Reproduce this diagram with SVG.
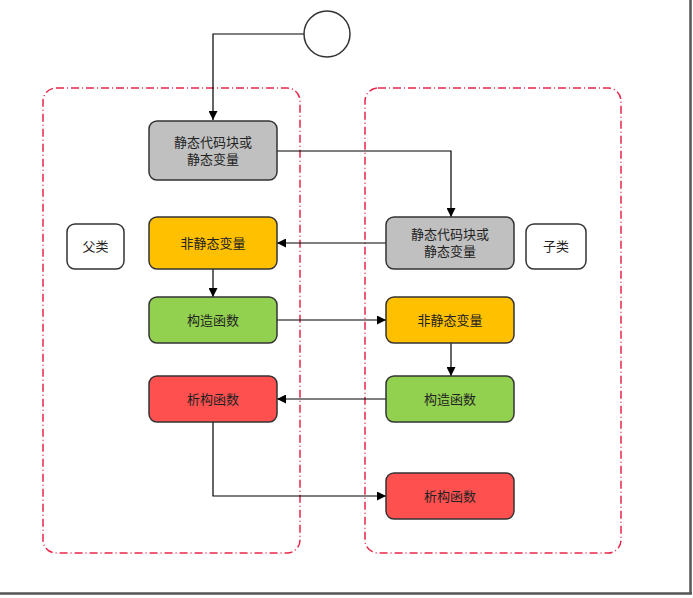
<svg xmlns="http://www.w3.org/2000/svg" width="693" height="598" viewBox="0 0 693 598">
<defs>
<marker id="arr" viewBox="0 0 10 10" refX="10" refY="5" markerWidth="9" markerHeight="9" markerUnits="userSpaceOnUse" orient="auto">
<path d="M0,0 L10,5 L0,10 z" fill="#000"/>
</marker>
<style>
.grp{fill:none;stroke:#E8264A;stroke-width:1.5;stroke-dasharray:8 3 1 3}
.n{stroke:#333;stroke-width:1.5}
.t{font-family:"Liberation Sans","Noto Sans CJK SC",sans-serif;font-size:13px;fill:#222;text-anchor:middle;dominant-baseline:central}
.c{fill:none;stroke:#000;stroke-width:1.2}
</style>
</defs>
<rect width="693" height="598" fill="#fff"/>
<line x1="690.5" y1="0" x2="690.5" y2="594" stroke="#555" stroke-width="2.5"/>
<line x1="0" y1="593.5" x2="692" y2="593.5" stroke="#555" stroke-width="2.5"/>
<g id="containers">
<rect class="grp" x="43" y="88" width="257" height="465" rx="13"/>
<rect class="grp" x="365" y="88" width="256" height="465" rx="13"/>
</g>
<g id="connectors">
<path class="c" d="M304,34 H213 V120" marker-end="url(#arr)"/>
<path class="c" d="M277,151 H451 V217" marker-end="url(#arr)"/>
<path class="c" d="M386,243 H277" marker-end="url(#arr)"/>
<path class="c" d="M213,269 V297" marker-end="url(#arr)"/>
<path class="c" d="M277,320 H386" marker-end="url(#arr)"/>
<path class="c" d="M451,343 V376" marker-end="url(#arr)"/>
<path class="c" d="M386,399 H277" marker-end="url(#arr)"/>
<path class="c" d="M213,422 V496 H386" marker-end="url(#arr)"/>
</g>
<g id="start"><circle cx="327" cy="34" r="23" fill="#fff" stroke="#333" stroke-width="1.5"/></g>
<g id="parent-static"><rect class="n" x="149" y="121" width="128" height="59" rx="8" fill="#C0C0C0"/><text class="t" x="213" y="142">静态代码块或</text><text class="t" x="213" y="159">静态变量</text></g>
<g id="parent-label"><rect class="n" x="67" y="224" width="57" height="45" rx="8" fill="#fff"/><text class="t" x="95.5" y="246.5">父类</text></g>
<g id="parent-nonstatic"><rect class="n" x="149" y="217" width="128" height="52" rx="8" fill="#FFC000"/><text class="t" x="213" y="243">非静态变量</text></g>
<g id="parent-ctor"><rect class="n" x="149" y="297" width="128" height="46" rx="8" fill="#92D050"/><text class="t" x="213" y="320">构造函数</text></g>
<g id="parent-dtor"><rect class="n" x="149" y="376" width="128" height="46" rx="8" fill="#FF5050"/><text class="t" x="213" y="399">析构函数</text></g>
<g id="child-static"><rect class="n" x="386" y="217" width="128" height="52" rx="8" fill="#C0C0C0"/><text class="t" x="450" y="234">静态代码块或</text><text class="t" x="450" y="251">静态变量</text></g>
<g id="child-label"><rect class="n" x="526" y="224" width="60" height="45" rx="8" fill="#fff"/><text class="t" x="556" y="246.5">子类</text></g>
<g id="child-nonstatic"><rect class="n" x="386" y="297" width="128" height="46" rx="8" fill="#FFC000"/><text class="t" x="450" y="320">非静态变量</text></g>
<g id="child-ctor"><rect class="n" x="386" y="376" width="128" height="46" rx="8" fill="#92D050"/><text class="t" x="450" y="399">构造函数</text></g>
<g id="child-dtor"><rect class="n" x="386" y="473" width="128" height="46" rx="8" fill="#FF5050"/><text class="t" x="450" y="496">析构函数</text></g>
</svg>
